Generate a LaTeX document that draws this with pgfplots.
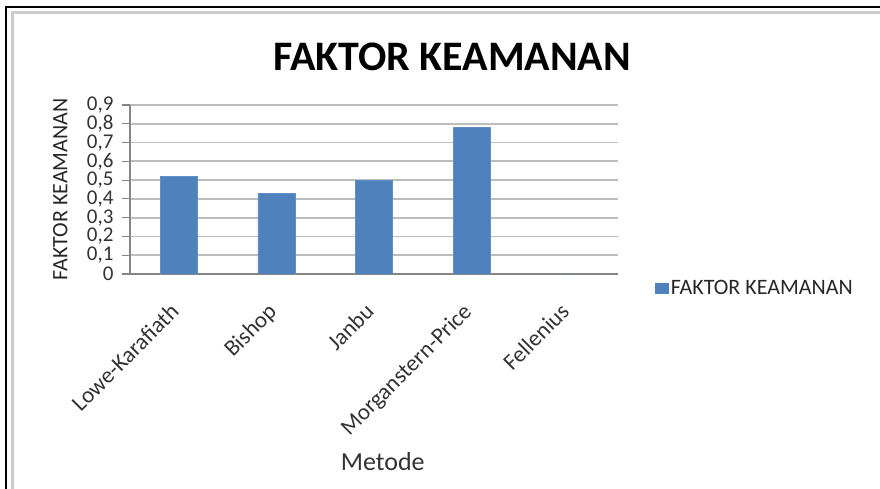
\documentclass[border=0pt]{standalone}
\usepackage{pgfplots}
\pgfplotsset{compat=1.18}
\usepackage{fontspec}
\setmainfont{Carlito}
\definecolor{barblue}{HTML}{4F81BD}
\definecolor{gridgray}{HTML}{BDBDBD}
\definecolor{axgray}{HTML}{868686}
\begin{document}
\begin{tikzpicture}[x=1pt,y=1pt]
\useasboundingbox (0,0) rectangle (880,489);
% frame
\draw[black,line width=2.2pt] (6,0) -- (6,482) -- (880,482);
\draw[gray!40,line width=3.5pt] (12.5,0) -- (12.5,476.5) -- (880,476.5);
\begin{axis}[
  at={(130pt,215pt)}, anchor=south west,
  scale only axis, width=488pt, height=169pt,
  xmin=0, xmax=5, ymin=0, ymax=0.9,
  axis lines*=left,
  axis line style={axgray,line width=1.2pt},
  xtick={0.5,1.5,2.5,3.5,4.5},
  xticklabels={Lowe-Karafiath,Bishop,Janbu,Morganstern-Price,Fellenius},
  minor xtick={0,1,2,3,4,5},
  xtick style={draw=none},
  minor tick style={axgray,line width=1.2pt},
  minor tick length=8pt,
  ytick={0,0.1,...,0.9},
  ytick style={axgray,line width=1.2pt},
  major tick length=8pt,
  tick align=outside,
  ymajorgrids,
  major grid style={gridgray,line width=1.8pt},
  /pgf/number format/assume math mode=true,
  /pgf/number format/use comma,
  /pgf/number format/fixed,
  /pgf/number format/precision=1,
  yticklabel style={font=\fontsize{21}{24}\selectfont, text=black!80, xshift=-5pt},
  xticklabel style={font=\fontsize{23}{26}\selectfont, text=black!80, xshift=-10pt, yshift=-15pt, rotate=45, anchor=north east},
  ylabel={FAKTOR KEAMANAN},
  ylabel style={font=\fontsize{22}{26}\selectfont, text=black!85, at={(axis description cs:-0.143,0.5)}, anchor=center},
  xlabel={Metode},
  xlabel style={font=\fontsize{26}{30}\selectfont, text=black!80, at={(axis description cs:0.518,-1.112)}, anchor=center},
  title={\textbf{FAKTOR KEAMANAN}},
  title style={font=\fontsize{42}{48}\selectfont, at={(axis description cs:0.66,1.25)}, anchor=center},
  legend style={draw=none, fill=none, at={(axis description cs:1.07,-0.083)}, anchor=west, font=\fontsize{22}{26}\selectfont, text=black!85, legend cell align=left},
  legend image code/.code={\fill[barblue] (0cm,-5pt) rectangle (13pt,5pt);},
]
\addplot[ybar, bar width=37pt, fill=barblue, draw=barblue!90!white] coordinates {
  (0.5,0.52) (1.5,0.43) (2.5,0.50) (3.5,0.78) (4.5,0)
};
\addlegendentry{FAKTOR KEAMANAN}
\end{axis}
\end{tikzpicture}
\end{document}
